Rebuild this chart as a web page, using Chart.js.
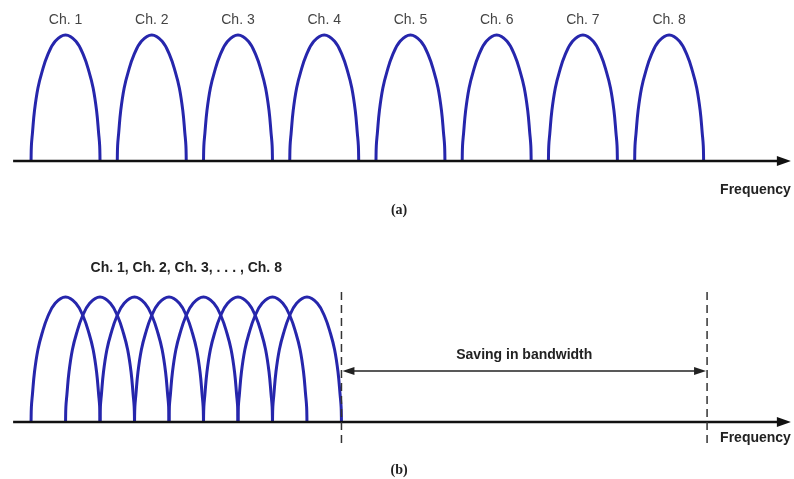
<!DOCTYPE html>
<html>
<head>
<meta charset="utf-8">
<script src="https://cdn.jsdelivr.net/npm/chart.js@4/dist/chart.umd.min.js"></script>
<style>
  body { margin: 0; background: #fff; }
  canvas { display: block; }
</style>
</head>
<body>
<canvas id="chart-a" width="794" height="240"></canvas>
<canvas id="chart-b" width="794" height="239"></canvas>
<script>
// Channel names
const channels = ["Ch. 1", "Ch. 2", "Ch. 3", "Ch. 4", "Ch. 5", "Ch. 6", "Ch. 7", "Ch. 8"];

// Where each channel band starts on the frequency axis
const startsA = [0, 2.5, 5, 7.5, 10, 12.5, 15, 17.5];   // (a) separate bands
const startsB = [0, 1, 2, 3, 4, 5, 6, 7];               // (b) overlapping bands

// One channel's shape: offset across the band and height
const shapeX = [0, 0.01, 0.04, 0.1, 0.2, 0.32, 0.48, 0.7, 1, 1.3, 1.52, 1.68, 1.8, 1.9, 1.96, 1.99, 2];
const shapeY = [0, 0.12, 0.22, 0.4, 0.58, 0.71, 0.84, 0.95, 1, 0.95, 0.84, 0.71, 0.58, 0.4, 0.22, 0.12, 0];

// Frequency axis extent and the saved-bandwidth markers in (b)
const xRange = [-0.9, 22.12];
const axisRange = [-0.52, 22.03];
const savingRange = [9, 19.6];

const blue = "#2626ac";
const sans = "'Liberation Sans', Arial, sans-serif";
const serif = "'Liberation Serif', 'Times New Roman', serif";

function shapeData(start) {
    return shapeX.map((x, i) => ({ x: start + x, y: shapeY[i] }));
}

function text(ctx, str, px, py, font, color) {
    ctx.font = font;
    ctx.fillStyle = color;
    ctx.textAlign = "center";
    ctx.textBaseline = "middle";
    ctx.fillText(str, px, py);
}

function arrowHead(ctx, tipX, tipY, dir, len, half) {
    ctx.beginPath();
    ctx.moveTo(tipX, tipY);
    ctx.lineTo(tipX - dir * len, tipY - half);
    ctx.lineTo(tipX - dir * len, tipY + half);
    ctx.closePath();
    ctx.fill();
}

// Frequency axis with arrow and its label
function drawAxis(chart, labelY) {
    const { ctx, scales: { x, y } } = chart;
    const y0 = y.getPixelForValue(0);
    const x0 = x.getPixelForValue(axisRange[0]);
    const x1 = x.getPixelForValue(axisRange[1]);
    ctx.save();
    ctx.strokeStyle = "#111";
    ctx.fillStyle = "#111";
    ctx.lineWidth = 2.5;
    ctx.beginPath();
    ctx.moveTo(x0, y0);
    ctx.lineTo(x1 - 8, y0);
    ctx.stroke();
    arrowHead(ctx, x1, y0, 1, 14, 5);
    ctx.font = "bold 14px " + sans;
    ctx.textAlign = "right";
    ctx.textBaseline = "middle";
    ctx.fillStyle = "#222";
    ctx.fillText("Frequency", x1, y.getPixelForValue(labelY));
    ctx.restore();
}

function makeChart(id, starts, yRange, drawExtras) {
    return new Chart(document.getElementById(id), {
        type: "scatter",
        data: {
            datasets: starts.map((s, i) => ({
                label: channels[i],
                data: shapeData(s),
                showLine: true,
                borderColor: blue,
                borderWidth: 3,
                pointRadius: 0,
                tension: 0.4,
                fill: false,
                clip: false
            }))
        },
        options: {
            responsive: false,
            animation: false,
            devicePixelRatio: 1,
            layout: { padding: 0 },
            plugins: { legend: { display: false }, tooltip: { enabled: false } },
            scales: {
                x: { type: "linear", min: xRange[0], max: xRange[1], display: false },
                y: { min: yRange[0], max: yRange[1], display: false }
            }
        },
        plugins: [{ id: "extras", afterDatasetsDraw: chart => drawExtras(chart) }]
    });
}

// (a) channels side by side
makeChart("chart-a", startsA, [-0.627, 1.278], chart => {
    const { ctx, scales: { x, y } } = chart;
    drawAxis(chart, -0.23);
    ctx.save();
    startsA.forEach((s, i) => {
        text(ctx, channels[i], x.getPixelForValue(s + 1), y.getPixelForValue(1.12), "14px " + sans, "#444");
    });
    text(ctx, "(a)", x.getPixelForValue(10.67), y.getPixelForValue(-0.39), "bold 14px " + serif, "#222");
    ctx.restore();
});

// (b) overlapping channels and the saved bandwidth
makeChart("chart-b", startsB, [-0.456, 1.456], chart => {
    const { ctx, scales: { x, y } } = chart;
    drawAxis(chart, -0.128);
    ctx.save();

    // dashed band edges
    ctx.strokeStyle = "#333";
    ctx.lineWidth = 1.5;
    ctx.setLineDash([8, 5]);
    savingRange.forEach(v => {
        const px = x.getPixelForValue(v);
        ctx.beginPath();
        ctx.moveTo(px, y.getPixelForValue(1.04));
        ctx.lineTo(px, y.getPixelForValue(-0.2));
        ctx.stroke();
    });
    ctx.setLineDash([]);

    // double arrow
    const ay = y.getPixelForValue(0.408);
    const l = x.getPixelForValue(savingRange[0]) + 1;
    const r = x.getPixelForValue(savingRange[1]) - 1;
    ctx.strokeStyle = "#222";
    ctx.fillStyle = "#222";
    ctx.beginPath();
    ctx.moveTo(l + 8, ay);
    ctx.lineTo(r - 8, ay);
    ctx.stroke();
    arrowHead(ctx, l, ay, -1, 12, 4);
    arrowHead(ctx, r, ay, 1, 12, 4);

    text(ctx, "Saving in bandwidth", (l + r) / 2, y.getPixelForValue(0.536), "bold 14px " + sans, "#222");
    const title = channels.slice(0, 3).join(", ") + ", . . . , " + channels[7];
    text(ctx, title, x.getPixelForValue(4.5), y.getPixelForValue(1.232), "bold 14px " + sans, "#222");
    text(ctx, "(b)", x.getPixelForValue(10.67), y.getPixelForValue(-0.384), "bold 14px " + serif, "#222");
    ctx.restore();
});
</script>
</body>
</html>
